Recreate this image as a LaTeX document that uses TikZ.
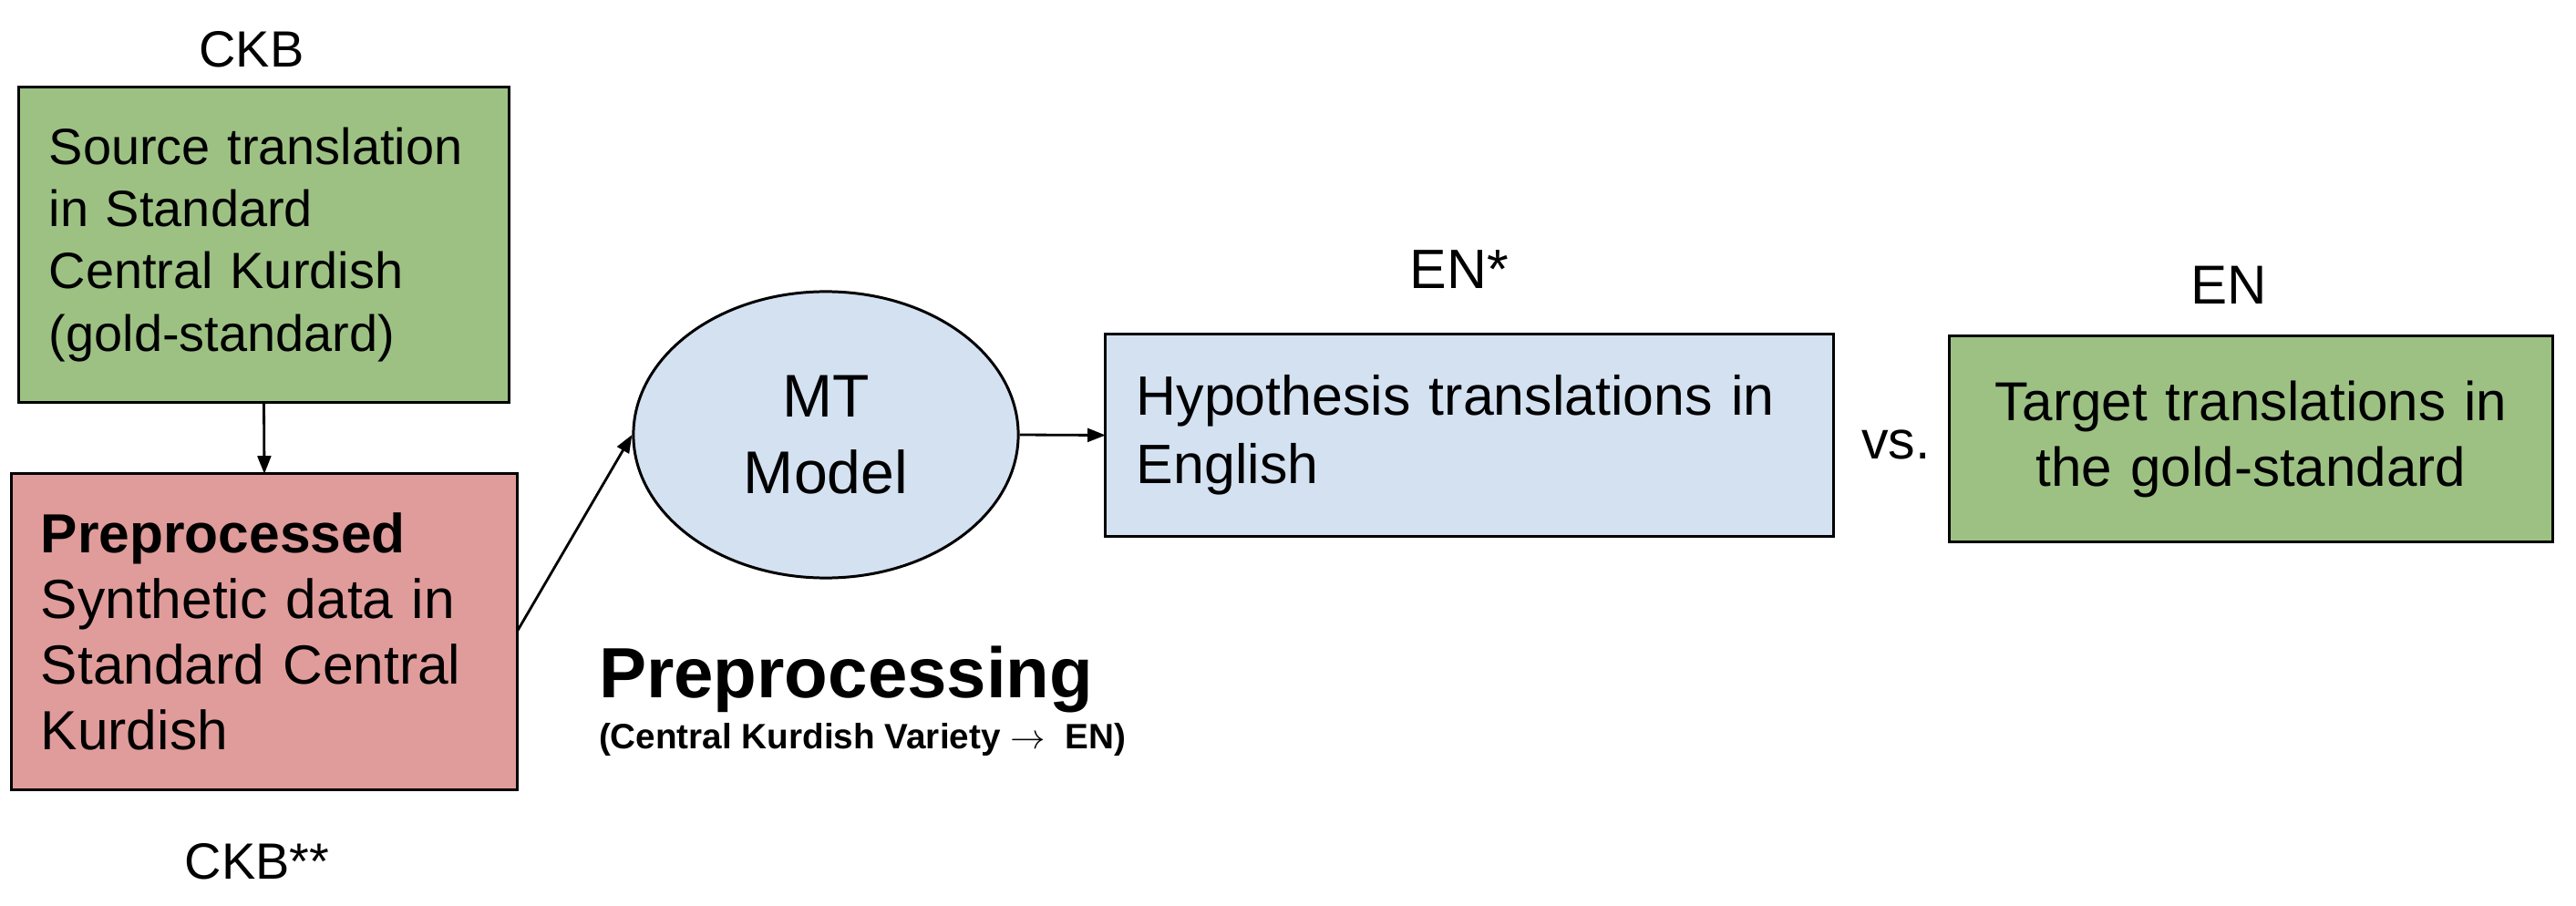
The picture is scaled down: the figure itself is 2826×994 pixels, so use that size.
\documentclass[tikz,border=0pt]{standalone}
\usepackage{fontspec}
\setmainfont{Liberation Sans}
\usetikzlibrary{arrows.meta,shapes.geometric}
\definecolor{boxgreen}{HTML}{9DC183}
\definecolor{boxred}{HTML}{E09C9A}
\definecolor{boxblue}{HTML}{D3E1F1}
\tikzset{
  box/.style={draw=black, line width=0.85pt, rectangle, inner ysep=0pt, outer sep=0pt},
  arr/.style={draw=black, line width=0.8pt, -{Triangle[length=5.6pt,width=4.2pt]}},
  lbl/.style={inner sep=0pt, outer sep=0pt},
}
\begin{document}
\begin{tikzpicture}[x=0.01cm, y=-0.01cm]
\useasboundingbox[fill=white] (0,0) rectangle (2826,994);

\node[box, fill=boxgreen, minimum width=5.37cm, minimum height=3.45cm,
      inner xsep=0.33cm, text width=4.71cm, align=left,
      font=\fontsize{15.9}{19.35}\selectfont] (src) at (289.5,268.5)
  {Source translation\\in Standard\\Central Kurdish\\(gold-standard)};

\node[box, fill=boxred, minimum width=5.54cm, minimum height=3.46cm,
      inner xsep=0.32cm, text width=4.90cm, align=left,
      font=\fontsize{17.2}{20.5}\selectfont] (pre) at (290,693)
  {\textbf{Preprocessed}\\Synthetic data in\\Standard Central\\Kurdish};

\node[draw=black, line width=0.85pt, ellipse, fill=boxblue, inner sep=0pt,
      minimum width=4.22cm, minimum height=3.14cm, align=center,
      font=\fontsize{18.8}{23.9}\selectfont] (mt) at (906,477)
  {MT\\Model};

\node[box, fill=boxblue, minimum width=7.98cm, minimum height=2.21cm,
      inner xsep=0.34cm, text width=7.30cm, align=left,
      font=\fontsize{17.3}{21.3}\selectfont] (hyp) at (1612,477.5)
  {Hypothesis translations in\\English};

\node[box, fill=boxgreen, minimum width=6.61cm, minimum height=2.25cm,
      inner xsep=0.305cm, text width=6.0cm, align=center,
      font=\fontsize{17.1}{20.5}\selectfont] (tgt) at (2469.5,481.5)
  {Target translations in\\the gold-standard};

\node[lbl, font=\fontsize{15.9}{19}\selectfont] (ckb) at (276,54) {CKB};
\node[lbl, font=\fontsize{15.9}{19}\selectfont] (ckbss) at (282,945) {CKB**};
\node[lbl, font=\fontsize{17.3}{20}\selectfont] (enstar) at (1601,296) {EN*};
\node[lbl, font=\fontsize{17.1}{20}\selectfont] (en) at (2445,313) {EN};
\node[lbl, font=\fontsize{16.8}{20}\selectfont] (vs) at (2080,488) {vs.};

\node[lbl, anchor=base west, font=\fontsize{22.2}{26}\selectfont\bfseries] (prep) at (657,765) {Preprocessing};
\node[lbl, anchor=base west, font=\fontsize{11}{13}\selectfont\bfseries] (sub) at (657,821)
  {(Central Kurdish Variety \ensuremath{\rightarrow}\ \ EN)};

\draw[arr] (src.south) -- (pre.north);
\draw[arr] (pre.east) -- (mt.west);
\draw[arr] (mt.east) -- (hyp.west);
\end{tikzpicture}
\end{document}
